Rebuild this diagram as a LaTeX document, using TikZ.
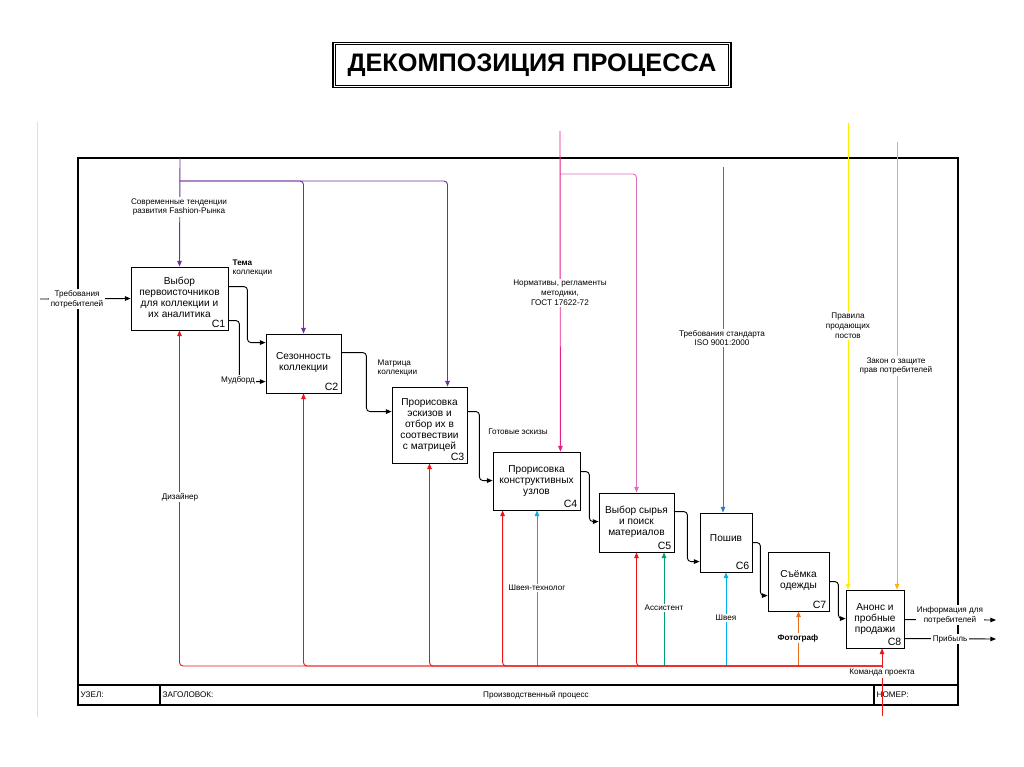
\documentclass[tikz,border=0pt]{standalone}
\usepackage{fontspec}
\setmainfont{Liberation Sans}
\usetikzlibrary{calc}
\usetikzlibrary{positioning}
\usetikzlibrary{arrows.meta}

\definecolor{idefpurple}{RGB}{112,48,160}
\definecolor{idefred}{RGB}{235,20,20}
\definecolor{idefpink}{RGB}{230,30,140}
\definecolor{idefpinklight}{RGB}{220,110,190}
\definecolor{idefblue}{RGB}{40,125,205}
\definecolor{idefcyan}{RGB}{0,175,235}
\definecolor{idefgreen}{RGB}{0,160,110}
\definecolor{ideforange}{RGB}{230,110,25}
\definecolor{idefyellow}{RGB}{255,238,0}
\definecolor{idefgold}{RGB}{255,180,0}

\newcommand{\proctext}[1]{\raisebox{7pt}{\begin{tabular}{@{}c@{}}#1\end{tabular}}}

\begin{document}
\begin{tikzpicture}[x=0.025cm, y=-0.025cm,
	proc/.style 2 args={draw, line width=0.6pt, fill=white, inner sep=0pt,
		minimum width=#1*0.025cm, minimum height=#2*0.025cm,
		font=\fontsize{7.2}{7.8}\selectfont},
	num/.style={anchor=south east, inner sep=2pt, font=\fontsize{7.5}{8}\selectfont},
	lbl/.style={fill=white, inner sep=1pt, align=center, font=\fontsize{5.8}{7}\selectfont},
	arr/.style={line width=0.65pt, rounded corners=2.5pt, -{Triangle[length=4pt,width=3.2pt]}},
	feed/.style={to path={-- ++(#1,0) |- (\tikztotarget)}}]
\useasboundingbox (0,0) rectangle (1024,767);

% title
\node [draw, line width=1pt, minimum width=9.95cm, minimum height=1.13cm,
	font=\fontsize{18}{20}\selectfont\bfseries] (title) at (532,65)
	{ДЕКОМПОЗИЦИЯ ПРОЦЕССА};
\draw [line width=0.5pt] ($(title.north west)+(3,3)$) rectangle ($(title.south east)+(-3,-3)$);

% frame
\draw [gray!25] (37,122) -- (37,717);
\draw [line width=0.8pt] (78,158) rectangle (958,705);
\draw [line width=0.8pt] (78,685) -- (958,685);
\draw [line width=0.8pt] (160,685) -- (160,705);
\draw [line width=0.8pt] (874,685) -- (874,705);
\node [lbl, anchor=west] (node lbl) at (79,695) {УЗЕЛ:};
\node [lbl, anchor=west] (head lbl) at (161,695) {ЗАГОЛОВОК:};
\node [lbl] (proc lbl) at (536,695) {Производственный процесс};
\node [lbl, anchor=west, fill=none] (num lbl) at (875,695) {НОМЕР:};

% activities
\node [proc={97}{63}, label={[num, name=c1 no]south east:C1}] (c1) at (179.5,298.5)
	{\proctext{Выбор\\первоисточников\\для коллекции и\\их аналитика}};
\node [proc={75}{59}, label={[num, name=c2 no]south east:C2}] (c2) at (303.5,363.5)
	{\proctext{Сезонность\\коллекции}};
\node [proc={75}{76}, label={[num, name=c3 no]south east:C3}] (c3) at (429.5,425)
	{\proctext{Прорисовка\\эскизов и\\отбор их в\\соотвествии\\с матрицей}};
\node [proc={87}{58}, label={[num, name=c4 no]south east:C4}] (c4) at (536.5,481)
	{\proctext{Прорисовка\\конструктивных\\узлов}};
\node [proc={75}{59}, label={[num, name=c5 no]south east:C5}] (c5) at (636.5,522.5)
	{\proctext{Выбор сырья\\и поиск\\материалов}};
\node [proc={52}{59}, label={[num, name=c6 no]south east:C6}] (c6) at (726,542.5)
	{\proctext{Пошив}};
\node [proc={61}{59}, label={[num, name=c7 no]south east:C7}] (c7) at (798.5,581.5)
	{\proctext{Съёмка\\одежды}};
\node [proc={58}{58}, label={[num, name=c8 no]south east:C8}] (c8) at (875,619)
	{\proctext{Анонс и\\пробные\\продажи}};

% free ends
\coordinate (needs) at (40,299);
\coordinate (trend) at (180,158);
\coordinate (trend split) at (180,181);
\coordinate (norms) at (560,131);
\coordinate (norms split) at (560,174);
\coordinate (iso) at (723,167);
\coordinate (rules) at (848,123);
\coordinate (law) at (897,142);
\coordinate (tech) at (537,666);
\coordinate (assist) at (664,666);
\coordinate (seam) at (726,666);
\coordinate (photo) at (798.5,666);
\coordinate (team) at (882,716);
\coordinate (team split) at (882,666);
\coordinate (info) at (996,620);
\coordinate (profit) at (996,639);

% outputs between activities
\draw ($(c1.north east)+(0,20)$) edge[arr, feed=19] ($(c2.north west)+(0,9)$);
\draw ($(c1.north east)+(0,54)$) edge[arr, feed=11] ($(c2.north west)+(0,48)$);
\draw ($(c2.north east)+(0,19)$) edge[arr, feed=25] ($(c3.north west)+(0,25)$);
\draw ($(c3.north east)+(0,25)$) edge[arr, feed=12] ($(c4.north west)+(0,29)$);
\draw ($(c4.north east)+(0,20)$) edge[arr, feed=9] ($(c5.north west)+(0,29)$);
\draw ($(c5.north east)+(0,19)$) edge[arr, feed=13] ($(c6.north west)+(0,49)$);
\draw ($(c6.north east)+(0,30)$) edge[arr, feed=8] ($(c7.north west)+(0,44)$);
\draw ($(c7.north east)+(0,30)$) edge[arr, feed=9] ($(c8.north west)+(0,29)$);

% inputs and outputs of the whole
\draw [arr] (needs) -- (c1.west);
\draw [arr] ($(c8.north east)+(0,30)$) -- (info);
\draw [arr] ($(c8.north east)+(0,49)$) -- (profit);

% controls
\draw [arr, idefpurple] (trend) -- (c1.north);
\draw [arr, idefpurple] (trend split) -| (c2.north);
\draw [arr, idefpurple] (trend split) -| ($(c3.north)+(18,0)$);
\draw [arr, idefpinklight] (norms split) -| (c5.north);
\draw [arr, idefpink] (norms) -- ($(c4.north east)+(-20,0)$);
\draw [arr, idefblue] (iso) -- (iso |- c6.north);
\draw [arr, idefyellow] (rules) -- (rules |- c8.north);
\draw [arr, idefgold] (law) -- (law |- c8.north);

% mechanisms
\draw [arr, idefcyan] (tech) -- (tech |- c4.south);
\draw [arr, idefgreen] (assist) -- (assist |- c5.south);
\draw [arr, idefcyan] (seam) -- (seam |- c6.south);
\draw [arr, ideforange] (photo) -- (photo |- c7.south);
\draw [arr, idefred] (team split) -| (c1.south);
\draw [arr, idefred] (team split) -| (c2.south);
\draw [arr, idefred] (team split) -| (c3.south);
\draw [arr, idefred] (team split) -| ($(c4.south west)+(10,0)$);
\draw [arr, idefred] (team split) -| (c5.south);
\draw [arr, idefred] (team) -- (team |- c8.south);

% labels
\node [lbl] (trend lbl) at (179,207) {Современные тенденции\\развития Fashion-Рынка};
\node [lbl] (needs lbl) at (77,299) {Требования\\потребителей};
\node [lbl, anchor=west, align=left, fill=none] (theme lbl) at (231,268) {\textbf{Тема}\\коллекции};
\node [lbl] (mood lbl) at (238,380) {Мудборд};
\node [lbl, anchor=west, align=left, fill=none] (matrix lbl) at (376,368) {Матрица\\коллекции};
\node [lbl, fill=none] (sketch lbl) at (518,432) {Готовые эскизы};
\node [lbl] (norms lbl) at (560,293) {Нормативы, регламенты\\методики,\\ГОСТ 17622-72};
\node [lbl] (iso lbl) at (722,338) {Требования стандарта\\ISO 9001:2000};
\node [lbl] (rules lbl) at (848,326) {Правила\\продающих\\постов};
\node [lbl] (law lbl) at (896,366) {Закон о защите\\прав потребителей};
\node [lbl] (designer lbl) at (180,497) {Дизайнер};
\node [lbl] (tech lbl) at (537,588) {Швея-технолог};
\node [lbl] (assist lbl) at (664,608) {Ассистент};
\node [lbl] (seam lbl) at (726,618) {Швея};
\node [lbl, font=\fontsize{5.8}{7}\selectfont\bfseries] (photo lbl) at (798,638) {Фотограф};
\node [lbl] (team lbl) at (882,673) {Команда проекта};
\node [lbl] (info lbl) at (950,615) {Информация для\\потребителей};
\node [lbl] (profit lbl) at (950,639) {Прибыль};
\end{tikzpicture}
\end{document}
